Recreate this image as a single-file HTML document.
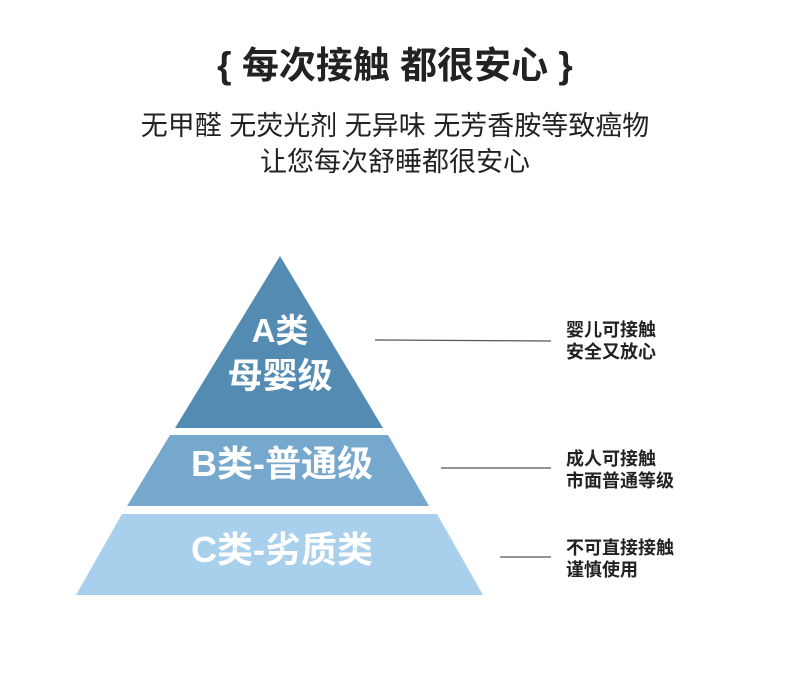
<!DOCTYPE html>
<html><head><meta charset="utf-8"><style>
body{margin:0;width:790px;height:688px;background:#fff;position:relative;overflow:hidden;font-family:"Liberation Sans","Noto Sans CJK SC",sans-serif;}
.t{position:absolute;left:0;width:790px;text-align:center;color:#222;white-space:nowrap}
.r{position:absolute;left:566px;font-size:18px;font-weight:bold;line-height:22px;color:#222;white-space:nowrap}
</style></head><body>
<div class="t" style="top:42px;font-size:37px;font-weight:bold;line-height:48px;">{ 每次接触 都很安心 }</div>
<div class="t" style="top:108px;font-size:27px;line-height:36px;">无甲醛 无荧光剂 无异味 无芳香胺等致癌物</div>
<div class="t" style="top:144px;font-size:27px;line-height:36px;">让您每次舒睡都很安心</div>
<svg width="790" height="688" style="position:absolute;left:0;top:0">
<polygon points="280,256 383,428 175,428" fill="#548bb3"/>
<polygon points="170,435 388,435 429,506 127,506" fill="#75a8cc"/>
<polygon points="122,514 437,514 483,595 76,595" fill="#a8cfeb"/>
<g stroke="#555" stroke-width="1.3">
<line x1="375" y1="340" x2="551" y2="341"/>
<line x1="441" y1="468" x2="551" y2="468"/>
<line x1="500" y1="557" x2="551" y2="557"/>
</g>
<g fill="#fff" font-weight="bold" font-family="Liberation Sans,Noto Sans CJK SC,sans-serif" text-anchor="middle">
<text x="280" y="342" font-size="33">A类</text>
<text x="280" y="388" font-size="35">母婴级</text>
<text x="282" y="476" font-size="36">B类-普通级</text>
<text x="282" y="562" font-size="36">C类-劣质类</text>
</g>
</svg>
<div class="r" style="top:319px">婴儿可接触<br>安全又放心</div>
<div class="r" style="top:448px">成人可接触<br>市面普通等级</div>
<div class="r" style="top:537px">不可直接接触<br>谨慎使用</div>
</body></html>
